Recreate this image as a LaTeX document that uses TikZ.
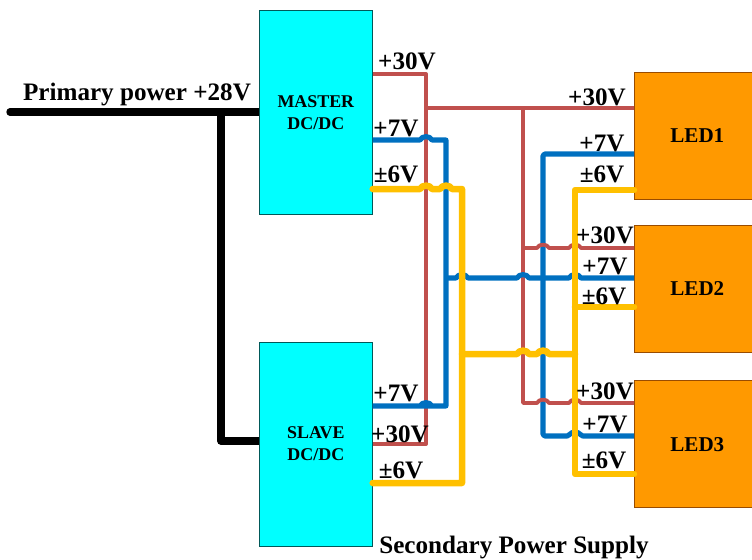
\documentclass[tikz,border=0pt]{standalone}
\usepackage{fontspec}
\setmainfont{Liberation Serif}
\usetikzlibrary{positioning, backgrounds}

\newcommand{\hop}[2]{-- ({#1-6},#2) .. controls +(2,-4.5) and +(-2,-4.5) .. ({#1+6},#2)}

\definecolor{wirered}{HTML}{C0504D}
\definecolor{wireblue}{HTML}{0070C0}
\definecolor{wireyellow}{HTML}{FFC000}
\definecolor{boxorange}{HTML}{FF9900}
\definecolor{boxcyan}{HTML}{00FFFF}

\tikzset{
  supply/.style={rectangle, draw=teal!70!black, fill=boxcyan, line width=0.4pt, align=center, minimum width=2.26cm, minimum height=4.08cm, font=\fontsize{10.2}{12.5}\selectfont\bfseries},
  load/.style={rectangle, draw=orange!60!black, fill=boxorange, line width=0.4pt, minimum width=2.52cm, minimum height=2.54cm, font=\fontsize{12}{14}\selectfont\bfseries},
  volt/.style={inner sep=0pt, font=\fontsize{14.3}{16}\selectfont\bfseries},
  railred/.style={draw=wirered, line width=2.2pt, line join=round},
  railblue/.style={draw=wireblue, line width=2.9pt, line join=round},
  railyellow/.style={draw=wireyellow, line width=3.7pt, line join=round, line cap=round},
  railblack/.style={draw=black, line width=4.2pt, line join=round, line cap=round}
}

\begin{document}
\begin{tikzpicture}[x=0.02cm, y=-0.02cm]
\useasboundingbox (0,0) rectangle (752,559);

\node[supply, anchor=north west] (master) at (259,10) {MASTER\\DC/DC};
\node[supply, below=2.54cm of master] (slave) {SLAVE\\DC/DC};
\node[load, anchor=north west] (led1) at (634,72) {LED1};
\node[load, below=0.5cm of led1] (led2) {LED2};
\node[load, below=0.56cm of led2] (led3) {LED3};

% corners and junctions
\coordinate (pwrin) at (10,112);
\coordinate (pwrtee) at (221,112);
\coordinate (pwrdown) at (221,441);
\coordinate (r1) at (426,74);
\coordinate (r2) at (426,444);
\coordinate (r3) at (426,108);
\coordinate (r4) at (523,108);
\coordinate (r5) at (523,403);
\coordinate (r6) at (523,248);
\coordinate (b1) at (446,140);
\coordinate (b2) at (446,406);
\coordinate (b3) at (446,278);
\coordinate (b4) at (543,154);
\coordinate (b5) at (543,436);
\coordinate (y1) at (462,189);
\coordinate (y2) at (462,483);
\coordinate (y3) at (462,354);
\coordinate (y4) at (575,354);
\coordinate (y5) at (575,190);
\coordinate (y6) at (575,474);
\coordinate (y7) at (575,307);

% primary
\begin{scope}[on background layer]
\draw[railblack] (pwrin) -- (pwrtee) -- (master.west |- pwrtee);
\draw[railblack] (pwrtee) -- (pwrdown) -- (slave.west |- pwrdown);
\end{scope}

% +7V feed to LED1 and LED3 goes under the red humps
\draw[railblue, rounded corners=1pt] (led1.west |- b4) -- (b4) -- (b5) \hop{575}{436} -- (led3.west |- b5);

% +30V
\draw[railred] (master.east |- r1) -- (r1) -- (r2) -- (slave.east |- r2);
\draw[railred] (r3) -- (r4) -- (led1.west |- r4);
\draw[railred] (r4) -- (r5) \hop{543}{403} \hop{575}{403} -- (led3.west |- r5);
\draw[railred] (r6) \hop{543}{248} \hop{575}{248} -- (led2.west |- r6);

% +7V
\draw[railblue] (master.east |- b1) \hop{426}{140} -- (b1) -- (b2) \hop{426}{406} -- (slave.east |- b2);
\draw[railblue] (b3) \hop{462}{278} \hop{523}{278} \hop{575}{278} -- (led2.west |- b3);

% +-6V
\draw[railyellow] (master.east |- y1) \hop{426}{189} \hop{446}{189} -- (y1) -- (y2) -- (slave.east |- y2);
\draw[railyellow] (y3) \hop{523}{354} \hop{543}{354} -- (y4);
\draw[railyellow] (led1.west |- y5) -- (y5) -- (y6) -- (led3.west |- y6);
\draw[railyellow] (y7) -- (led2.west |- y7);

\node[volt] (primary) at (137,94) {Primary power +28V};
\node[volt] (secondary) at (514,547) {Secondary Power Supply};
\node[volt] (m30) at (407,61) {+30V};
\node[volt] (m7) at (396,128) {+7V};
\node[volt] (m6) at (396,174) {±6V};
\node[volt] (s7) at (396,393) {+7V};
\node[volt] (s30) at (400,434) {+30V};
\node[volt] (s6) at (401,470) {±6V};
\node[volt] (a30) at (597,97) {+30V};
\node[volt] (a7) at (602,143) {+7V};
\node[volt] (a6) at (602,174) {±6V};
\node[volt] (c30) at (605,235) {+30V};
\node[volt] (c7) at (605,266) {+7V};
\node[volt] (c6) at (604,296) {±6V};
\node[volt] (d30) at (605,391) {+30V};
\node[volt] (d7) at (605,424) {+7V};
\node[volt] (d6) at (604,460) {±6V};

\end{tikzpicture}
\end{document}
